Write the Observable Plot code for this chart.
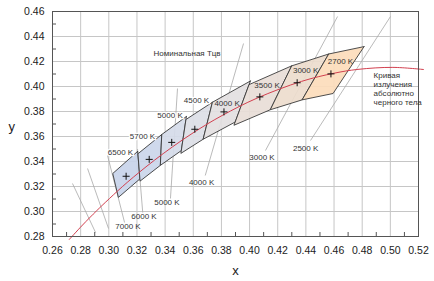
<!DOCTYPE html>
<html><head><meta charset="utf-8">
<script src="https://cdn.jsdelivr.net/npm/d3@7"></script>
<script src="https://cdn.jsdelivr.net/npm/@observablehq/plot@0.6"></script>
<style>body{margin:0;background:#fff;}</style>
</head><body><div id="chart"></div>
<script>
const xTicks = [0.26,0.28,0.30,0.32,0.34,0.36,0.38,0.40,0.42,0.44,0.46,0.48,0.50,0.52];
const yTicks = [0.28,0.30,0.32,0.34,0.36,0.38,0.40,0.42,0.44,0.46];
const minorX = [0.27,0.29,0.31,0.33,0.35,0.37,0.39,0.41,0.43,0.45,0.47,0.49,0.51];
const minorY = [0.29,0.31,0.33,0.35,0.37,0.39,0.41,0.43,0.45];

// ANSI C78.377 quadrangles
const quadLabels = ["6500 K","5700 K","5000 K","4500 K","4000 K","3500 K","3000 K","2700 K"];
const centerX = [0.3123,0.3287,0.3447,0.3611,0.3818,0.4073,0.4338,0.4578];
const centerY = [0.3282,0.3417,0.3553,0.3658,0.3797,0.3917,0.4030,0.4101];
const cornerX = [
  [0.3205,0.3028,0.3068,0.3221],
  [0.3376,0.3207,0.3222,0.3366],
  [0.3551,0.3376,0.3366,0.3515],
  [0.3736,0.3548,0.3512,0.3670],
  [0.4006,0.3736,0.3670,0.3898],
  [0.4299,0.3996,0.3889,0.4147],
  [0.4562,0.4299,0.4147,0.4373],
  [0.4813,0.4562,0.4373,0.4593]
];
const cornerY = [
  [0.3481,0.3304,0.3113,0.3261],
  [0.3616,0.3462,0.3243,0.3369],
  [0.3760,0.3616,0.3369,0.3487],
  [0.3874,0.3736,0.3465,0.3578],
  [0.4044,0.3874,0.3578,0.3716],
  [0.4165,0.4015,0.3690,0.3814],
  [0.4260,0.4165,0.3814,0.3893],
  [0.4319,0.4260,0.3893,0.3944]
];
const quadFill = ["#c8d4ea","#cbd6ea","#d5dbe9","#dcdee6","#e3dfe1","#e8ddd7","#eddccd","#fcdcbb"];
const quadLabelX = [0.3083,0.3239,0.3435,0.3623,0.3840,0.4124,0.4398,0.4646];
const quadLabelY = [0.3472,0.3600,0.3768,0.3888,0.3864,0.4008,0.4128,0.4200];

// isotherm segments (grey lines)
const isoX1 = [0.2742,0.2849,0.2991,0.3204,0.3488,0.3957,0.4625,0.5001];
const isoY1 = [0.3224,0.3344,0.3448,0.3500,0.3984,0.4344,0.4560,0.4560];
const isoX2 = [0.2906,0.2998,0.3112,0.3241,0.3438,0.3685,0.4113,0.4433];
const isoY2 = [0.2832,0.2864,0.2912,0.2992,0.3104,0.3288,0.3488,0.3568];
const isoLabels = ["7000 K","6000 K","5000 K","4000 K","3000 K","2500 K"];
const isoLabelX = [0.3136,0.3250,0.3413,0.3659,0.4088,0.4398];
const isoLabelY = [0.2880,0.2960,0.3072,0.3232,0.3432,0.3504];

// Planckian locus
const planckX = [0.2719,0.2807,0.2869,0.2952,0.3004,0.3064,0.3135,0.3221,0.3325,0.3451,0.3608,0.3805,0.4053,0.4369,0.4599,0.4770,0.5018,0.5236];
const planckY = [0.2776,0.2884,0.2956,0.3048,0.3103,0.3166,0.3237,0.3318,0.3411,0.3516,0.3636,0.3768,0.3907,0.4041,0.4106,0.4137,0.4153,0.4136];

const quadRows = [];
quadLabels.forEach((q, i) => {
  for (let k = 0; k <= 4; k++) {
    quadRows.push({q, x: cornerX[i][k % 4], y: cornerY[i][k % 4], fill: quadFill[i]});
  }
});
const centers = quadLabels.map((q, i) => ({x: centerX[i], y: centerY[i]}));
const qLabels = quadLabels.map((t, i) => ({t, x: quadLabelX[i], y: quadLabelY[i], out: i < 4}));
const isoSegs = isoX1.map((d, i) => ({x1: d, y1: isoY1[i], x2: isoX2[i], y2: isoY2[i]}));
const iLabels = isoLabels.map((t, i) => ({t, x: isoLabelX[i], y: isoLabelY[i]}));
const planck = planckX.map((d, i) => ({x: d, y: planckY[i]}));

const chart = Plot.plot({
  width: 434, height: 281,
  marginLeft: 52, marginRight: 16, marginTop: 11, marginBottom: 45,
  x: {domain: [0.26, 0.52]},
  y: {domain: [0.28, 0.46]},
  style: {fontFamily: "'Liberation Sans', Arial, sans-serif", background: "#fff", color: "#222"},
  marks: [
    Plot.gridX(xTicks, {stroke: "#c6c6c6", strokeOpacity: 1}),
    Plot.gridY(yTicks, {stroke: "#c6c6c6", strokeOpacity: 1}),
    Plot.link(isoSegs, {x1: "x1", y1: "y1", x2: "x2", y2: "y2", stroke: "#a8a8a8", strokeWidth: 0.8}),
    Plot.line(quadRows, {x: "x", y: "y", z: "q", fill: "fill", fillOpacity: 0.92, stroke: "#3a3a3a", strokeWidth: 0.9, curve: "linear"}),
    Plot.line(planck, {x: "x", y: "y", stroke: "#d2404f", strokeWidth: 1, curve: "catmull-rom"}),
    Plot.dot(centers, {x: "x", y: "y", symbol: "plus", r: 2.4, stroke: "#111", strokeWidth: 1}),
    Plot.tickX(minorX, {x: d => d, insetTop: 221, stroke: "#555"}),
    Plot.tickY(minorY, {y: d => d, insetRight: 362, stroke: "#555"}),
    Plot.frame({stroke: "#555"}),
    Plot.text(qLabels.filter(d => d.out), {x: "x", y: "y", text: "t", fontSize: 8, fill: "#333", stroke: "white", strokeWidth: 2.5}),
    Plot.text(qLabels.filter(d => !d.out), {x: "x", y: "y", text: "t", fontSize: 8, fill: "#333"}),
    Plot.text(iLabels, {x: "x", y: "y", text: "t", fontSize: 8, fill: "#333"}),
    Plot.text(["Номинальная Тцв"], {x: 0.3556, y: 0.4264, text: d => d, fontSize: 8, fill: "#333"}),
    Plot.text(["Кривая\nизлучения\nабсолютно\nчерного тела"], {x: 0.4881, y: 0.4088, text: d => d, fontSize: 8, fill: "#333", textAnchor: "start", lineAnchor: "middle", lineHeight: 1.15, dy: 13}),
    Plot.axisX(xTicks, {tickSize: 0, tickPadding: 10, tickFormat: d => d.toFixed(2), fontSize: 10.5, label: null, fill: "#222"}),
    Plot.axisY(yTicks, {tickSize: 0, tickPadding: 8, tickFormat: d => d.toFixed(2), fontSize: 10.5, label: null, fill: "#222"}),
    Plot.text(["x"], {frameAnchor: "bottom", dy: 38, text: d => d, fontSize: 13, fill: "#222"}),
    Plot.text(["y"], {frameAnchor: "left", dx: -44, dy: 3, text: d => d, fontSize: 13, fill: "#222"})
  ]
});
document.getElementById("chart").appendChild(chart);
</script>
</body></html>
